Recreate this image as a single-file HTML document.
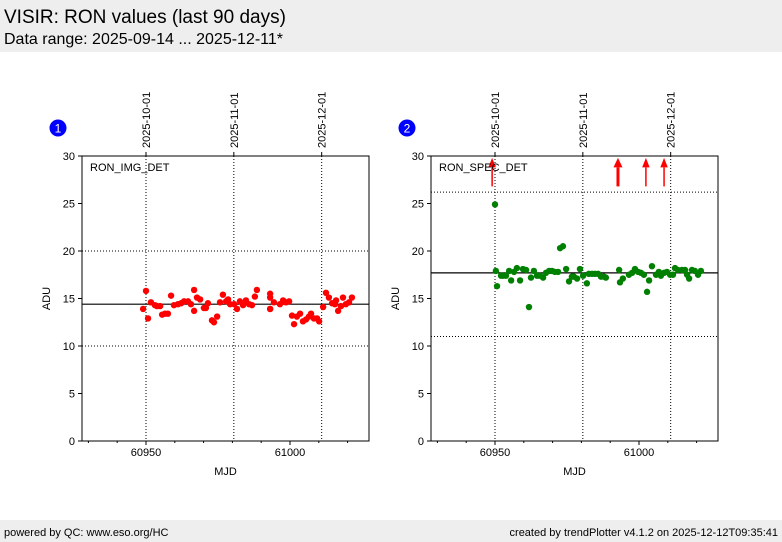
<!DOCTYPE html>
<html><head><meta charset="utf-8"><style>
body{margin:0;width:782px;height:542px;background:#fff;font-family:"Liberation Sans",sans-serif;overflow:hidden;position:relative}
#hdr{position:absolute;left:0;top:0;width:782px;height:52px;background:#eeeeee}
#t1{position:absolute;left:4px;top:7px;font-size:19px}
#t2{position:absolute;left:4px;top:31px;font-size:16px}
#ftr{position:absolute;left:0;top:520px;width:782px;height:22px;background:#eeeeee;font-size:11px}
#fl{position:absolute;left:4px;top:7px}#fr{position:absolute;right:4px;top:7px}
svg{position:absolute;left:0;top:0}
</style></head><body>
<div id="hdr">
<div id="t1">VISIR: RON values (last 90 days)</div>
<div id="t2">Data range: 2025-09-14 ... 2025-12-11*</div></div>
<svg id="c" width="782" height="542"></svg>
<div id="ftr"><span id="fl">powered by QC: www.eso.org/HC</span><span id="fr">created by trendPlotter v4.1.2 on 2025-12-12T09:35:41</span></div>
<script>
const xTicks=[60950,61000];
const yTicks=[0,5,10,15,20,25,30];
const dateLabels=["2025-10-01","2025-11-01","2025-12-01"];
const dateMjd=[60950,60980.5,61011];
const img_mjd=[-1,0,0.7,1.7,3.1,3.8,4.9,5.6,6.6,7.6,8.7,9.7,11.1,12.2,13.2,14.6,15.6,16.7,16.7,17.7,18.8,20.1,20.8,21.5,22.9,23.6,24.7,25.7,26.7,27.8,28.5,29.2,30.6,31.6,32.6,33.7,34.7,35.8,36.8,37.8,38.5,43.1,43.1,43.1,43.1,44.4,46.5,47.6,48.6,49.7,50.7,51.4,52.4,53.5,54.5,55.6,56.6,57.3,58.3,59.4,60.1,61.5,62.5,63.5,64.6,65.6,66,66.7,67.7,68.4,69.4,70.5,71.5].map(d=>60950+d);
const img_val=[13.9,15.8,12.9,14.6,14.3,14.2,14.2,13.3,13.4,13.4,15.3,14.3,14.4,14.5,14.7,14.7,14.4,15.9,13.7,15.1,14.9,14.0,14.0,14.5,12.7,12.5,13.1,14.6,15.4,14.7,14.9,14.4,14.4,13.9,14.7,14.3,14.8,14.4,14.3,15.2,15.9,15.5,15.1,13.9,13.9,14.6,14.4,14.8,14.6,14.7,13.2,12.3,13.1,13.4,12.6,12.8,13.1,13.4,12.9,12.9,12.6,14.1,15.6,15.1,14.5,14.4,14.8,13.7,14.2,15.1,14.4,14.6,15.1];
const spec_mjd=[0,0.3,0.7,2.1,2.8,3.8,4.9,5.6,6.6,7.6,8.7,9.7,10.8,11.8,12.5,13.5,14.6,15.6,16.7,17.7,18.8,19.8,20.8,21.9,22.6,23.6,24.7,25.7,26.7,27.4,28.5,29.5,30.6,31.9,32.6,33.7,34.7,35.8,36.8,37.8,38.5,43.1,43.4,44.4,46.5,47.6,48.6,49.7,50.7,51.7,52.8,53.5,54.5,55.9,56.9,57.6,58.7,59.7,60.8,61.8,62.5,63.5,64.9,66,66.7,67.4,68.4,69.4,70.5,71.5].map(d=>60950+d);
const spec_val=[24.9,17.9,16.3,17.4,17.4,17.4,17.9,16.9,17.8,18.2,16.9,18.1,18.0,14.1,17.2,17.9,17.4,17.4,17.2,17.7,17.9,17.9,17.8,17.8,20.3,20.5,18.1,16.8,17.3,17.3,17.1,18.1,17.4,16.6,17.6,17.6,17.6,17.6,17.3,17.3,17.2,18.0,16.7,17.1,17.5,17.7,18.1,17.8,17.7,17.5,15.7,16.9,18.4,17.5,17.8,17.4,17.7,17.8,17.5,17.5,18.2,18.0,18.0,18.0,17.5,17.1,18.0,17.9,17.5,17.9];
const spec_out=[60949,60992.7,61002.4,61008.7];
const spec_outw=[1.5,3,1.5,1.5];
const panels=[
 {n:"1",x0:82,name:"RON_IMG_DET",mjd:img_mjd,val:img_val,col:"#ff0000",mean:14.4,lims:[20,10],out:[]},
 {n:"2",x0:431,name:"RON_SPEC_DET",mjd:spec_mjd,val:spec_val,col:"#008000",mean:17.7,lims:[26.2,11.0],out:spec_out}
];
const NS="http://www.w3.org/2000/svg",svg=document.getElementById('c');
function mk(t,a,p){const e=document.createElementNS(NS,t);for(const k in a)e.setAttribute(k,a[k]);(p||svg).appendChild(e);return e;}
const W=287,T=156,B=441;
panels.forEach((p,pi)=>{
 const X=m=>p.x0+64+(m-60950)*2.88, Y=v=>B-v*(B-T)/30;
 const g=mk('g',{});
 
 
 const c=mk('circle',{cx:p.x0-24,cy:128,r:8.5,fill:'#0000ff'},g);
 
 const bt=mk('text',{x:p.x0-24,y:132.5,fill:'#fff','font-size':12,'text-anchor':'middle'},g);bt.textContent=p.n;
 // date lines and labels
 dateMjd.forEach((m,i)=>{
  const l=mk('line',{x1:X(m),x2:X(m),y1:T,y2:B,stroke:'#000','stroke-width':1,'stroke-dasharray':'1,2'},g);
  
  mk('line',{x1:X(m),x2:X(m),y1:T,y2:T-4,stroke:'#000'},g);
  const t=mk('text',{x:0,y:0,'font-size':11,'text-anchor':'start',transform:`translate(${X(m)+4},${T-8}) rotate(-90)`},g);
  t.textContent=dateLabels[i];
 });
 p.lims.forEach(v=>{const l=mk('line',{x1:p.x0,x2:p.x0+W,y1:Y(v),y2:Y(v),stroke:'#000','stroke-dasharray':'1,2'},g);
  });
 const ml=mk('line',{x1:p.x0,x2:p.x0+W,y1:Y(p.mean),y2:Y(p.mean),stroke:'#000','stroke-width':1.2},g);
 
 p.mjd.forEach((m,i)=>{const d=mk('circle',{cx:X(m),cy:Y(p.val[i]),r:3.2,fill:p.col},g);
  });
 p.out.forEach((m,i)=>{const w=spec_outw[i];
  mk('line',{x1:X(m),x2:X(m),y1:Y(26.8),y2:Y(28.8),stroke:'#ff0000','stroke-width':w},g);
  const a=mk('polygon',{points:`${X(m)-3-w/2},${Y(28.8)} ${X(m)+3+w/2},${Y(28.8)} ${X(m)},${Y(29.8)}`,fill:'#ff0000'},g);
  });
 const fr=mk('rect',{x:p.x0,y:T,width:W,height:B-T,fill:'none',stroke:'#000','stroke-width':1},g);
 
 const lb=mk('text',{x:p.x0+8,y:T+15,'font-size':11},g);lb.textContent=p.name;
 
 yTicks.forEach(v=>{mk('line',{x1:p.x0,x2:p.x0-4,y1:Y(v),y2:Y(v),stroke:'#000'},g);
  const t=mk('text',{x:p.x0-7,y:Y(v)+4,'font-size':11,'text-anchor':'end'},g);t.textContent=v;
  });
 for(let m=60930;m<=61020;m+=10){mk('line',{x1:X(m),x2:X(m),y1:B,y2:B+(m%50==0?4:2),stroke:'#000'},g);}
 xTicks.forEach(v=>{const t=mk('text',{x:X(v),y:B+15,'font-size':11,'text-anchor':'middle'},g);t.textContent=v;
  });
 const xl=mk('text',{x:p.x0+W/2,y:B+34,'font-size':11,'text-anchor':'middle'},g);xl.textContent='MJD';
 
 const yl=mk('text',{x:0,y:0,'font-size':11,'text-anchor':'middle',transform:`translate(${p.x0-32},${(T+B)/2}) rotate(-90)`},g);yl.textContent='ADU';
 
});
</script></body></html>
